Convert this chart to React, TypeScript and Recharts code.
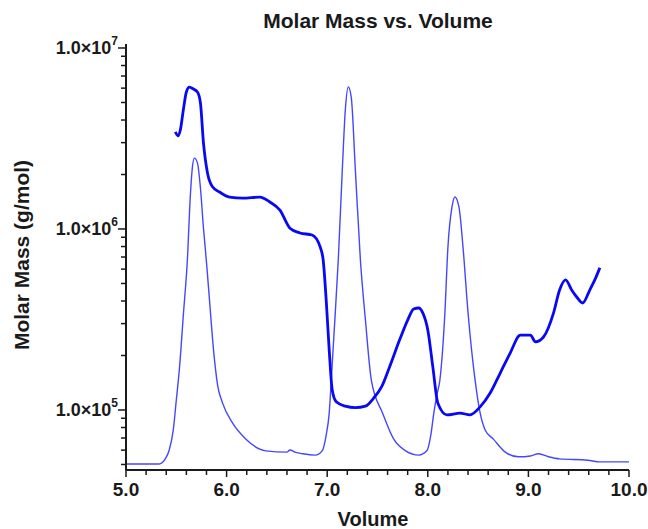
import { ComposedChart, Line, XAxis, YAxis } from 'recharts'

// molar mass trace (thick)
const massVolume = [
  5.49, 5.52, 5.54, 5.57, 5.6, 5.63, 5.67, 5.71, 5.74, 5.77, 5.81, 5.86, 5.93, 6.03, 6.16, 6.33,
  6.43, 6.53, 6.63, 6.73, 6.85, 6.93, 6.96, 6.99, 7.02, 7.05, 7.09, 7.18, 7.28, 7.38, 7.46, 7.54,
  7.62, 7.72, 7.8, 7.86, 7.91, 7.95, 8.0, 8.05, 8.1, 8.19, 8.32, 8.42, 8.52, 8.62, 8.72, 8.82,
  8.92, 9.02, 9.07, 9.15, 9.25, 9.31, 9.37, 9.43, 9.48, 9.54, 9.61, 9.66, 9.71,
]
const massValues = [
  3.44e6, 3.27e6, 3.52e6, 4.55e6, 5.71e6, 6.08e6, 5.93e6, 5.71e6, 4.97e6, 2.99e6, 2.04e6, 1.71e6,
  1.6e6, 1.5e6, 1.48e6, 1.5e6, 1.41e6, 1.27e6, 1.01e6, 9.5e5, 9.26e5, 7.96e5, 6.74e5, 4.05e5,
  2.14e5, 1.29e5, 1.11e5, 1.05e5, 1.03e5, 1.05e5, 1.16e5, 1.34e5, 1.73e5, 2.44e5, 3.14e5, 3.61e5,
  3.66e5, 3.44e5, 2.77e5, 1.73e5, 1.09e5, 9.4e4, 9.6e4, 9.4e4, 1.04e5, 1.24e5, 1.6e5, 2.07e5,
  2.59e5, 2.59e5, 2.38e5, 2.53e5, 3.44e5, 4.6e5, 5.23e5, 4.6e5, 4.21e5, 3.9e5, 4.6e5, 5.23e5, 6.1e5,
]

// detector signal (thin), arbitrary units 0-100
const signalVolume = [
  5.0, 5.33, 5.39, 5.43, 5.47, 5.5, 5.53, 5.57, 5.61, 5.64, 5.66, 5.68, 5.71, 5.74, 5.77, 5.8,
  5.83, 5.87, 5.91, 5.96, 6.06, 6.19, 6.39, 6.6, 6.63, 6.68, 6.76, 6.88, 6.95, 6.99, 7.02, 7.04,
  7.07, 7.11, 7.15, 7.18, 7.21, 7.24, 7.28, 7.33, 7.38, 7.44, 7.55, 7.66, 7.78, 7.91, 7.99, 8.03,
  8.06, 8.09, 8.12, 8.17, 8.2, 8.24, 8.27, 8.31, 8.35, 8.4, 8.47, 8.52, 8.57, 8.65, 8.77, 8.9,
  9.02, 9.1, 9.2, 9.31, 9.59, 9.71, 10.0,
]
const signalValues = [
  1.4, 1.4, 2.6, 4.7, 9.4, 16.4, 23.5, 36.4, 49.3, 64.6, 71.1, 73.2, 72.1, 66.2, 56.8, 48.8,
  39.9, 28.2, 20.0, 15.7, 11.0, 7.3, 4.5, 4.2, 4.7, 4.2, 3.8, 3.5, 4.5, 8.2, 13.4, 20.9,
  32.9, 49.3, 70.4, 84.5, 89.9, 87.3, 70.4, 49.3, 35.2, 20.9, 13.4, 7.3, 4.5, 3.5, 4.5, 8.2,
  13.4, 17.6, 21.1, 36.9, 52.3, 61.7, 64.1, 61.7, 52.3, 36.9, 21.1, 13.4, 9.4, 7.3, 4.2, 3.1,
  3.3, 3.8, 3.1, 2.6, 2.3, 1.9, 1.9,
]

const xTicks = [
  5.0, 5.2, 5.4, 5.6, 5.8, 6.0, 6.2, 6.4, 6.6, 6.8, 7.0, 7.2, 7.4, 7.6, 7.8, 8.0, 8.2, 8.4, 8.6,
  8.8, 9.0, 9.2, 9.4, 9.6, 9.8, 10.0,
]
const yMajorTicks = [1e5, 1e6, 1e7]
const yMinorTicks = [
  5e4, 6e4, 7e4, 8e4, 9e4, 2e5, 3e5, 4e5, 5e5, 6e5, 7e5, 8e5, 9e5, 2e6, 3e6, 4e6, 5e6, 6e6, 7e6,
  8e6, 9e6,
]
const yTicks = [...yMinorTicks, ...yMajorTicks].sort((a, b) => a - b)

const massData = massVolume.map((v, i) => ({ v, m: massValues[i] }))
const signalData = signalVolume.map((v, i) => ({ v, s: signalValues[i] }))

const FONT = '"Liberation Sans", Arial, Helvetica, sans-serif'
const INK = '#1a1a1a'

function YTick({ x, y, payload }: any) {
  const val = payload.value
  const major = yMajorTicks.some((t) => Math.abs(t - val) / t < 1e-6)
  const exp = Math.round(Math.log10(val))
  return (
    <g>
      <line x1={x - (major ? 8 : 5)} x2={x} y1={y} y2={y} stroke={INK} strokeWidth={1.5} />
      {major && (
        <text
          x={x - 8}
          y={y + 6}
          textAnchor="end"
          fontFamily={FONT}
          fontWeight="bold"
          fontSize={18}
          fill={INK}
        >
          1.0×10
          <tspan fontSize={12} dy={-9}>
            {exp}
          </tspan>
        </text>
      )}
    </g>
  )
}

function XTick({ x, y, payload }: any) {
  const val = payload.value
  const major = Math.abs(val - Math.round(val)) < 1e-6
  return (
    <g>
      <line x1={x} x2={x} y1={y} y2={y + (major ? 7 : 5)} stroke={INK} strokeWidth={1.5} />
      {major && (
        <text
          x={x}
          y={y + 26}
          textAnchor="middle"
          fontFamily={FONT}
          fontWeight="bold"
          fontSize={19}
          fill={INK}
        >
          {val.toFixed(1)}
        </text>
      )}
    </g>
  )
}

export default function App() {
  return (
    <div
      style={{
        position: 'absolute',
        left: 0,
        top: 0,
        width: 648,
        height: 529,
        background: '#fff',
        fontFamily: FONT,
      }}
    >
      <div
        style={{
          position: 'absolute',
          left: 178,
          top: 10,
          width: 400,
          textAlign: 'center',
          fontSize: 21,
          lineHeight: '21px',
          fontWeight: 'bold',
          color: INK,
        }}
      >
        Molar Mass vs. Volume
      </div>
      <div
        style={{
          position: 'absolute',
          left: 22 - 150,
          top: 255 - 12,
          width: 300,
          height: 24,
          lineHeight: '24px',
          textAlign: 'center',
          fontSize: 21,
          fontWeight: 'bold',
          color: INK,
          transform: 'rotate(-90deg)',
        }}
      >
        Molar Mass (g/mol)
      </div>
      <div
        style={{
          position: 'absolute',
          left: 373 - 100,
          top: 509,
          width: 200,
          textAlign: 'center',
          fontSize: 20,
          lineHeight: '20px',
          fontWeight: 'bold',
          color: INK,
        }}
      >
        Volume
      </div>

      <ComposedChart width={648} height={529} margin={{ top: 44, right: 19, left: 0, bottom: 0 }}>
        <XAxis
          type="number"
          dataKey="v"
          domain={[5, 10]}
          ticks={xTicks}
          interval={0}
          allowDataOverflow
          height={59}
          tickLine={false}
          tickSize={0}
          tickMargin={0}
          tick={<XTick />}
          axisLine={{ stroke: INK, strokeWidth: 2 }}
        />
        <YAxis
          yAxisId="mass"
          scale="log"
          domain={[4.66e4, 1.052e7]}
          ticks={yTicks}
          interval={0}
          allowDataOverflow
          width={126}
          tickLine={false}
          tickSize={0}
          tickMargin={0}
          tick={<YTick />}
          axisLine={{ stroke: INK, strokeWidth: 2 }}
        />
        <YAxis yAxisId="signal" orientation="right" hide domain={[0, 100]} allowDataOverflow />
        <Line
          yAxisId="signal"
          data={signalData}
          dataKey="s"
          type="monotone"
          stroke="#4646ff"
          strokeWidth={1.4}
          dot={false}
          isAnimationActive={false}
        />
        <Line
          yAxisId="mass"
          data={massData}
          dataKey="m"
          type="monotone"
          stroke="#0808f5"
          strokeWidth={2.8}
          dot={false}
          isAnimationActive={false}
        />
      </ComposedChart>
    </div>
  )
}
